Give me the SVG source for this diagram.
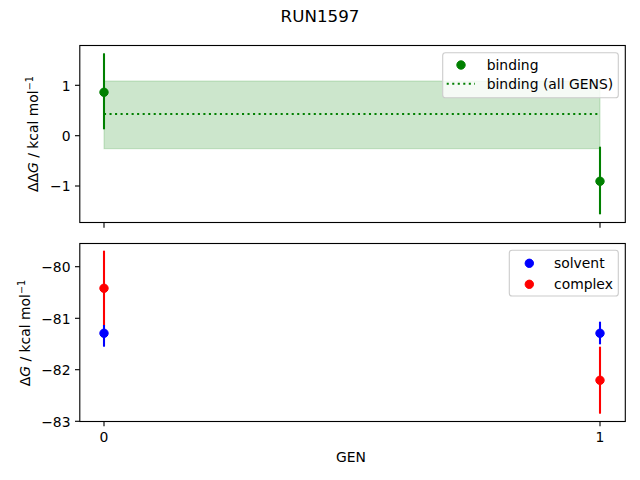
<svg xmlns="http://www.w3.org/2000/svg" width="640" height="480" viewBox="0 0 640 480">
<style>
text{font-family:"DejaVu Sans",sans-serif;font-size:13.9px;fill:#000}
.spine{fill:none;stroke:#000;stroke-width:1.11}
.tick{stroke:#000;stroke-width:1.11}
.eb{stroke-width:2.08;fill:none}
.leg{fill:#fff;fill-opacity:0.8;stroke:#cccccc;stroke-width:1.11}
.g{stroke:#008000;fill:#008000}
.b{stroke:#0000ff;fill:#0000ff}
.r{stroke:#ff0000;fill:#ff0000}
.yt{text-anchor:end}
.xt{text-anchor:middle}
</style>
<rect width="640" height="480" fill="#fff"/>
<text x="320" y="22" text-anchor="middle" style="font-size:16.7px">RUN1597</text>

<g id="top-axes">
  <rect x="104" y="81" width="496" height="67.7" fill="#008000" fill-opacity="0.2" stroke="#008000" stroke-opacity="0.2" stroke-width="1"/>
  <line x1="104" y1="114" x2="600" y2="114" stroke="#008000" stroke-width="2.08" stroke-dasharray="2.08 3.44"/>
  <g id="binding-gen0">
    <line class="eb g" x1="104" y1="53.3" x2="104" y2="129.3"/>
    <circle class="g" cx="104" cy="92.3" r="4.2" stroke="none"/>
  </g>
  <g id="binding-gen1">
    <line class="eb g" x1="600" y1="146.7" x2="600" y2="214.3"/>
    <circle class="g" cx="600" cy="181.3" r="4.2" stroke="none"/>
  </g>
  <rect class="spine" x="79.8" y="45.5" width="545.5" height="177"/>
  <line class="tick" x1="104" y1="223" x2="104" y2="227.8"/>
  <line class="tick" x1="600" y1="223" x2="600" y2="227.8"/>
  <line class="tick" x1="79.8" y1="85.3" x2="75" y2="85.3"/>
  <line class="tick" x1="79.8" y1="135.7" x2="75" y2="135.7"/>
  <line class="tick" x1="79.8" y1="186" x2="75" y2="186"/>
  <text class="yt" x="70.5" y="90.6">1</text>
  <text class="yt" x="70.5" y="141">0</text>
  <text class="yt" x="70.5" y="191.3">−1</text>
  <text transform="translate(38,134) rotate(-90)" text-anchor="middle">ΔΔ<tspan font-style="italic">G</tspan> / kcal mol<tspan font-size="9.7px" dy="-5">−1</tspan></text>
  <g id="top-legend">
    <rect class="leg" x="442.7" y="52.7" width="175.6" height="45" rx="2.8"/>
    <circle class="g" cx="461" cy="65" r="4.2" stroke="none"/>
    <text x="486.7" y="70">binding</text>
    <line x1="446.7" y1="83.7" x2="475" y2="83.7" stroke="#008000" stroke-width="2.08" stroke-dasharray="2.08 3.44"/>
    <text x="486.7" y="88.7">binding (all GENS)</text>
  </g>
</g>

<g id="bottom-axes">
  <g id="complex-gen0">
    <line class="eb r" x1="104" y1="250.7" x2="104" y2="326"/>
    <circle class="r" cx="104" cy="288.3" r="4.2" stroke="none"/>
  </g>
  <g id="solvent-gen0">
    <line class="eb b" x1="104" y1="325" x2="104" y2="346.7"/>
    <circle class="b" cx="104" cy="333.3" r="4.2" stroke="none"/>
  </g>
  <g id="solvent-gen1">
    <line class="eb b" x1="600" y1="321.7" x2="600" y2="344.3"/>
    <circle class="b" cx="600" cy="333.3" r="4.2" stroke="none"/>
  </g>
  <g id="complex-gen1">
    <line class="eb r" x1="600" y1="346.7" x2="600" y2="413.7"/>
    <circle class="r" cx="600" cy="380.3" r="4.2" stroke="none"/>
  </g>
  <rect class="spine" x="79.8" y="243.5" width="545.5" height="178"/>
  <line class="tick" x1="104" y1="421.5" x2="104" y2="426.3"/>
  <line class="tick" x1="600" y1="421.5" x2="600" y2="426.3"/>
  <text class="xt" x="104" y="442">0</text>
  <text class="xt" x="600" y="442">1</text>
  <text class="xt" x="351" y="462">GEN</text>
  <line class="tick" x1="79.8" y1="266.7" x2="75" y2="266.7"/>
  <line class="tick" x1="79.8" y1="318.3" x2="75" y2="318.3"/>
  <line class="tick" x1="79.8" y1="369.7" x2="75" y2="369.7"/>
  <line class="tick" x1="79.8" y1="421.3" x2="75" y2="421.3"/>
  <text class="yt" x="70.5" y="272">−80</text>
  <text class="yt" x="70.5" y="323.6">−81</text>
  <text class="yt" x="70.5" y="375">−82</text>
  <text class="yt" x="70.5" y="426.6">−83</text>
  <text transform="translate(30,333) rotate(-90)" text-anchor="middle">Δ<tspan font-style="italic">G</tspan> / kcal mol<tspan font-size="9.7px" dy="-5">−1</tspan></text>
  <g id="bottom-legend">
    <rect class="leg" x="509.3" y="250.3" width="109" height="45.7" rx="2.8"/>
    <circle class="b" cx="529.3" cy="263.3" r="4.2" stroke="none"/>
    <text x="554" y="268.3">solvent</text>
    <circle class="r" cx="529.3" cy="284.3" r="4.2" stroke="none"/>
    <text x="554" y="289.3">complex</text>
  </g>
</g>
</svg>
